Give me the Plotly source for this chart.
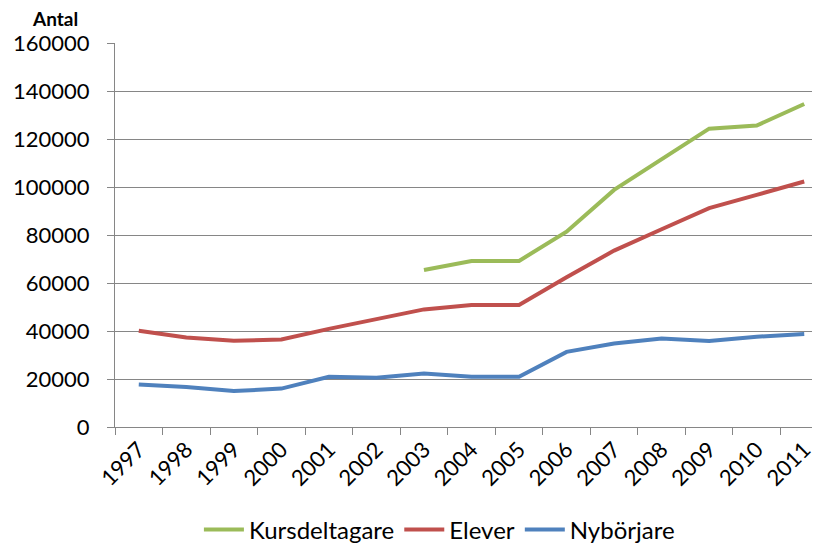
import plotly.graph_objects as go

years = [str(y) for y in range(1997, 2012)]
kursdeltagare = [None, None, None, None, None, None, 65400, 69200, 69200, 81400, 98800, 111400, 124300, 125600, 134600]
elever = [40100, 37300, 35900, 36500, 40900, 44800, 49000, 50800, 50800, 62400, 73500, 82400, 91200, 96700, 102300]
nyborjare = [17700, 16700, 15000, 16000, 20900, 20500, 22300, 20900, 20900, 31300, 34800, 36900, 35800, 37600, 38700]
y_ticks = [0, 20000, 40000, 60000, 80000, 100000, 120000, 140000, 160000]

font = "Lato, 'Noto Sans', sans-serif"

fig = go.Figure()
fig.add_trace(go.Scatter(x=years, y=kursdeltagare, mode="lines", name="Kursdeltagare",
                         line=dict(color="#9BBB59", width=4)))
fig.add_trace(go.Scatter(x=years, y=elever, mode="lines", name="Elever",
                         line=dict(color="#C0504D", width=4)))
fig.add_trace(go.Scatter(x=years, y=nyborjare, mode="lines", name="Nybörjare",
                         line=dict(color="#4F81BD", width=4)))

# the page body adds an 8px margin, so everything is shifted up/left by 8px
fig.update_layout(
    width=820, height=543,
    margin=dict(l=107, r=0, t=35, b=124, autoexpand=False),
    plot_bgcolor="white", paper_bgcolor="white",
    font=dict(family=font, size=21, color="black"),
    showlegend=True,
    legend=dict(orientation="h", x=0.455, y=-0.268, xanchor="center", yanchor="middle",
                font=dict(size=24), itemwidth=40, tracegroupgap=0),
    annotations=[dict(text="<b>Antal</b>", xref="paper", yref="paper", x=-0.084, y=1.063,
                      xanchor="center", yanchor="middle", showarrow=False,
                      font=dict(size=19, family=font))],
)
fig.update_xaxes(type="category", range=[-0.5, 14.5], tickson="boundaries",
                 ticks="outside", ticklen=7, tickcolor="#868686", tickangle=-45,
                 showline=True, linecolor="#868686", linewidth=1, showgrid=False,
                 tickfont=dict(size=22), automargin=False)
fig.update_yaxes(range=[0, 160000], tickvals=y_ticks, ticks="outside", ticklen=7,
                 tickcolor="#868686", showline=True, linecolor="#868686", linewidth=1,
                 showgrid=True, gridcolor="#868686", gridwidth=1, zeroline=False,
                 tickformat="d", ticklabelstandoff=13, tickfont=dict(size=22),
                 automargin=False)

fig.write_html("out.html")
